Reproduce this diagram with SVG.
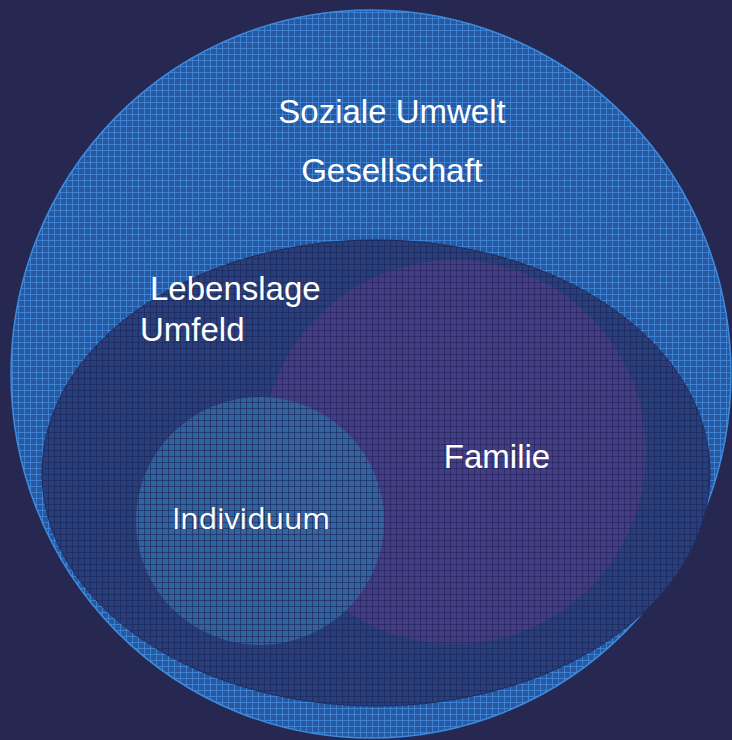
<svg xmlns="http://www.w3.org/2000/svg" width="732" height="740" viewBox="0 0 732 740">
  <style>
    .lbl { font-family: "Liberation Sans", Arial, sans-serif; font-size: 33px; fill: #ffffff; }
    .lbl2 { font-family: "Open Sans", "Liberation Sans", sans-serif; font-size: 30px; fill: #ffffff; }
  </style>
  <defs>
    <pattern id="gridLight" width="6" height="6" patternUnits="userSpaceOnUse">
      <path d="M0.5 0V6M0 0.5H6" stroke="#4189dc" stroke-width="1" fill="none" opacity="0.8"/>
    </pattern>
    <pattern id="gridDark" width="6" height="6" patternUnits="userSpaceOnUse">
      <path d="M0.5 0V6M0 0.5H6" stroke="#1d2150" stroke-width="1" fill="none" opacity="0.55"/>
    </pattern>
  </defs>
  <rect width="732" height="740" fill="#262852"/>
  <g id="soziale-umwelt">
    <ellipse cx="371" cy="374" rx="360" ry="364" fill="#2b579c" stroke="#3b8be0" stroke-width="1.5"/>
    <ellipse cx="371" cy="374" rx="360" ry="364" fill="url(#gridLight)"/>
    <text class="lbl" x="392" y="123" text-anchor="middle">Soziale Umwelt</text>
    <text class="lbl" x="392" y="182" text-anchor="middle">Gesellschaft</text>
  </g>
  <g id="lebenslage">
    <ellipse cx="376" cy="473" rx="334" ry="233" fill="#26407f" stroke="#1f2d60" stroke-width="1"/>
    <ellipse cx="376" cy="473" rx="334" ry="233" fill="url(#gridDark)"/>
    <text class="lbl" x="150" y="300">Lebenslage</text>
    <text class="lbl" x="140" y="341">Umfeld</text>
  </g>
  <g id="familie">
    <circle cx="454" cy="452" r="192" fill="#463c88" opacity="0.95"/>
    <circle cx="454" cy="452" r="192" fill="url(#gridDark)"/>
    <text class="lbl" x="497" y="468" text-anchor="middle">Familie</text>
  </g>
  <g id="individuum">
    <circle cx="260" cy="521" r="124" fill="#2f6ca8" opacity="0.82"/>
    <circle cx="260" cy="521" r="124" fill="url(#gridDark)"/>
    <text class="lbl2" x="251" y="529" text-anchor="middle">Individuum</text>
  </g>
  <g id="connectors"/>
</svg>
